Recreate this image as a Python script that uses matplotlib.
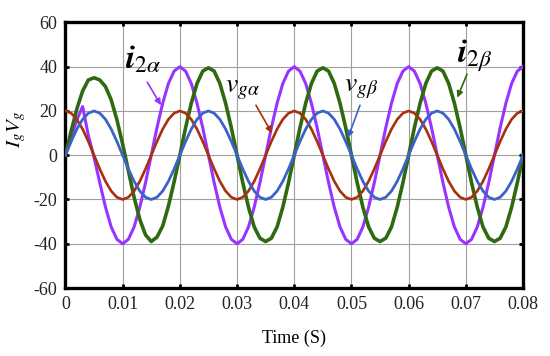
import numpy as np
import matplotlib
matplotlib.use("Agg")
import matplotlib.pyplot as plt

plt.rcParams['font.family'] = ['Liberation Serif', 'DejaVu Serif']
plt.rcParams['mathtext.fontset'] = 'stix'
plt.rcParams['axes.unicode_minus'] = False

# time axis (s), one sample per ms
t = np.arange(81) / 1000.0

# grid voltage alpha (red/brown)
v_ga = [20, 19.0, 16.2, 11.8, 6.2, 0, -6.2, -11.8, -16.2, -19.0,
        -20, -19.0, -16.2, -11.8, -6.2, 0, 6.2, 11.8, 16.2, 19.0,
        20, 19.0, 16.2, 11.8, 6.2, 0, -6.2, -11.8, -16.2, -19.0,
        -20, -19.0, -16.2, -11.8, -6.2, 0, 6.2, 11.8, 16.2, 19.0,
        20, 19.0, 16.2, 11.8, 6.2, 0, -6.2, -11.8, -16.2, -19.0,
        -20, -19.0, -16.2, -11.8, -6.2, 0, 6.2, 11.8, 16.2, 19.0,
        20, 19.0, 16.2, 11.8, 6.2, 0, -6.2, -11.8, -16.2, -19.0,
        -20, -19.0, -16.2, -11.8, -6.2, 0, 6.2, 11.8, 16.2, 19.0,
        20]

# grid voltage beta (blue)
v_gb = [0, 6.2, 11.8, 16.2, 19.0, 20, 19.0, 16.2, 11.8, 6.2,
        0, -6.2, -11.8, -16.2, -19.0, -20, -19.0, -16.2, -11.8, -6.2,
        0, 6.2, 11.8, 16.2, 19.0, 20, 19.0, 16.2, 11.8, 6.2,
        0, -6.2, -11.8, -16.2, -19.0, -20, -19.0, -16.2, -11.8, -6.2,
        0, 6.2, 11.8, 16.2, 19.0, 20, 19.0, 16.2, 11.8, 6.2,
        0, -6.2, -11.8, -16.2, -19.0, -20, -19.0, -16.2, -11.8, -6.2,
        0, 6.2, 11.8, 16.2, 19.0, 20, 19.0, 16.2, 11.8, 6.2,
        0, -6.2, -11.8, -16.2, -19.0, -20, -19.0, -16.2, -11.8, -6.2,
        0]

# current alpha (purple), start-up transient in first few ms
i_2a = [0, 8, 16, 22, 9, -1, -12.4, -23.5, -32.4, -38.0,
        -40, -38.0, -32.4, -23.5, -12.4, 0, 12.4, 23.5, 32.4, 38.0,
        40, 38.0, 32.4, 23.5, 12.4, 0, -12.4, -23.5, -32.4, -38.0,
        -40, -38.0, -32.4, -23.5, -12.4, 0, 12.4, 23.5, 32.4, 38.0,
        40, 38.0, 32.4, 23.5, 12.4, 0, -12.4, -23.5, -32.4, -38.0,
        -40, -38.0, -32.4, -23.5, -12.4, 0, 12.4, 23.5, 32.4, 38.0,
        40, 38.0, 32.4, 23.5, 12.4, 0, -12.4, -23.5, -32.4, -38.0,
        -40, -38.0, -32.4, -23.5, -12.4, 0, 12.4, 23.5, 32.4, 38.0,
        40]

# current beta (green)
i_2b = [0, 11, 21, 29, 34, 35, 34, 31, 25, 16,
        5, -7, -19, -29, -36, -39, -37, -32, -23, -12,
        0, 12.4, 23.5, 32.4, 38.0, 39.5, 38.0, 32.4, 23.5, 12.4,
        0, -12.4, -23.5, -32.4, -37.5, -39, -37.5, -32.4, -23.5, -12.4,
        0, 12.4, 23.5, 32.4, 38.0, 39.5, 38.0, 32.4, 23.5, 12.4,
        0, -12.4, -23.5, -32.4, -37.5, -39, -37.5, -32.4, -23.5, -12.4,
        0, 12.4, 23.5, 32.4, 38.0, 39.5, 38.0, 32.4, 23.5, 12.4,
        0, -12.4, -23.5, -32.4, -37.5, -39, -37.5, -32.4, -23.5, -12.4,
        0]

xticks = [0, 0.01, 0.02, 0.03, 0.04, 0.05, 0.06, 0.07, 0.08]
xticklabels = ['0', '0.01', '0.02', '0.03', '0.04', '0.05', '0.06', '0.07', '0.08']
yticks = [-60, -40, -20, 0, 20, 40, 60]

c_purple = '#9933ff'
c_green = '#2f6a10'
c_red = '#a8300c'
c_blue = '#3a62c8'

fig = plt.figure(figsize=(5.5, 3.56), dpi=100)
ax = fig.add_axes([0.119, 0.191, 0.832, 0.746])

ax.plot(t, i_2a, color=c_purple, lw=2.2, zorder=3)
ax.plot(t, i_2b, color=c_green, lw=2.6, zorder=3)
ax.plot(t, v_ga, color=c_red, lw=1.9, zorder=3)
ax.plot(t, v_gb, color=c_blue, lw=2.0, zorder=3)

ax.set_xlim(0, 0.08)
ax.set_ylim(-60, 60)
ax.set_xticks(xticks)
ax.set_xticklabels(xticklabels)
ax.set_yticks(yticks)
ax.grid(True, color='#a0a0a0', lw=0.8)
ax.set_axisbelow(True)
for s in ax.spines.values():
    s.set_linewidth(2.4)
ax.tick_params(direction='in', length=3, width=2, top=True, right=True,
               labelsize=13, colors='black', labelcolor='#222222', pad=6)

ax.set_xlabel('Time (S)', fontsize=13, labelpad=12)
fig.text(0.03, 0.635, r'$I_g V_g$', rotation=90, fontsize=15, ha='center', va='center')

arrow = dict(arrowstyle='-|>', lw=1.2, shrinkA=0, shrinkB=0, mutation_scale=9)

ax.text(0.0135, 43, r'$\mathbfit{i}_{2\alpha}$', fontsize=24, ha='center', va='center')
ax.annotate('', xy=(0.0167, 22.6), xytext=(0.0143, 33),
            arrowprops=dict(arrow, color=c_purple))
ax.text(0.0310, 29.5, r'$v_{g\alpha}$', fontsize=20, ha='center', va='center')
ax.annotate('', xy=(0.0361, 10), xytext=(0.0333, 22.6),
            arrowprops=dict(arrow, color=c_red))
ax.text(0.0517, 30, r'$v_{g\beta}$', fontsize=20, ha='center', va='center')
ax.annotate('', xy=(0.0494, 8), xytext=(0.0515, 22.6),
            arrowprops=dict(arrow, color=c_blue))
ax.text(0.0716, 45, r'$\mathbfit{i}_{2\beta}$', fontsize=24, ha='center', va='center')
ax.annotate('', xy=(0.0685, 26), xytext=(0.0702, 36.6),
            arrowprops=dict(arrow, color=c_green))

fig.savefig('out.png', dpi=100)
